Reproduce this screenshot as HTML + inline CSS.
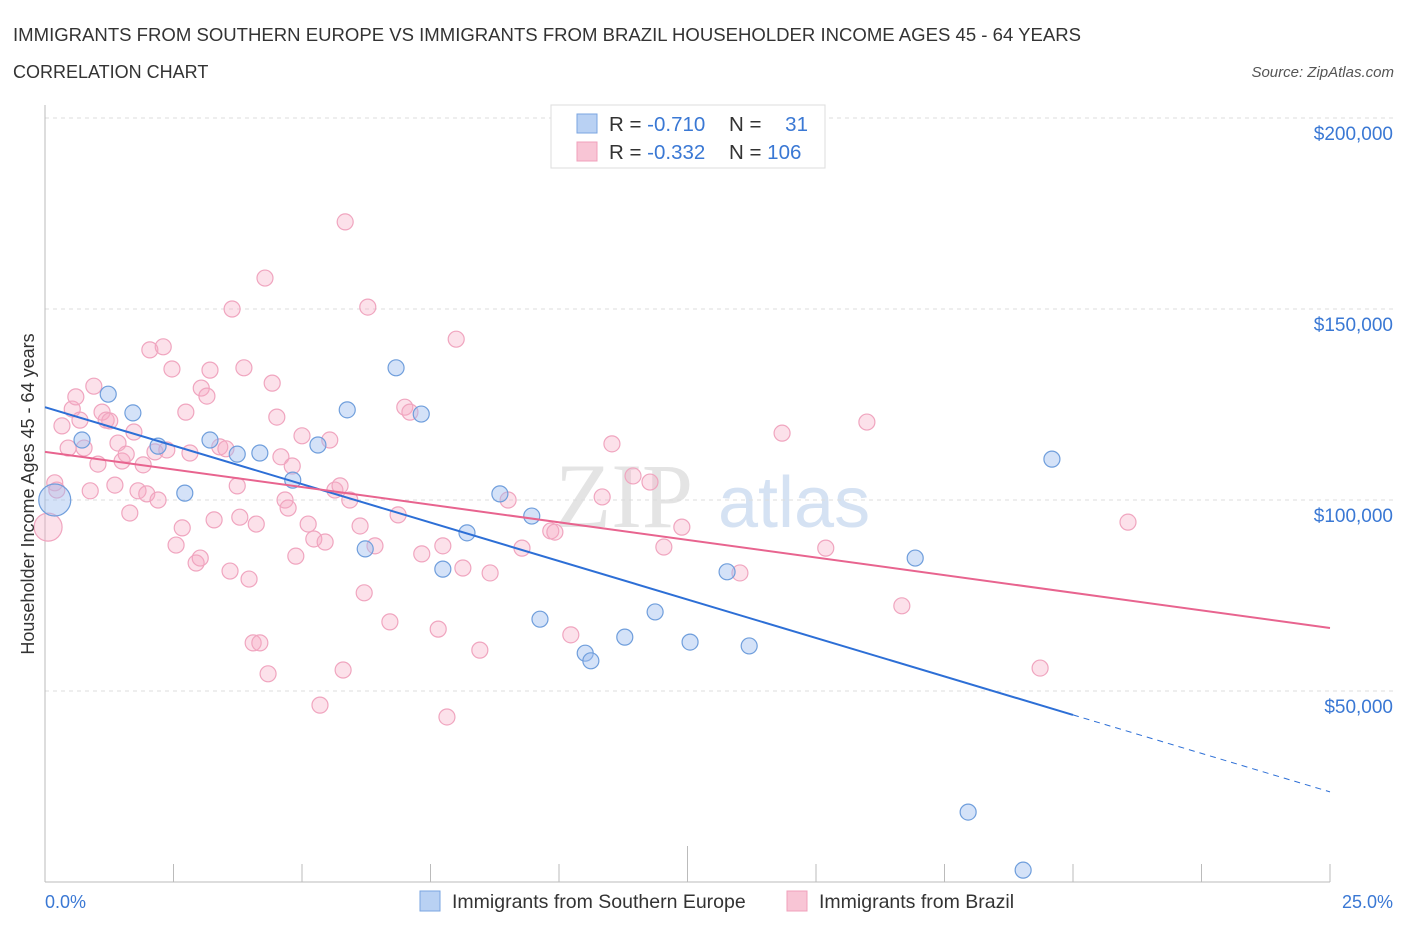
<!DOCTYPE html>
<html><head><meta charset="utf-8"><style>
body{margin:0;background:#fff;font-family:"Liberation Sans",sans-serif}
</style></head><body>
<svg id="c" width="1406" height="930" xmlns="http://www.w3.org/2000/svg" style="font-family:'Liberation Sans',sans-serif">
<text x="13" y="41" font-size="18" fill="#333" textLength="1068" lengthAdjust="spacingAndGlyphs">IMMIGRANTS FROM SOUTHERN EUROPE VS IMMIGRANTS FROM BRAZIL HOUSEHOLDER INCOME AGES 45 - 64 YEARS</text>
<text x="13" y="78" font-size="18" fill="#333">CORRELATION CHART</text>
<text x="1394" y="77" font-size="15" fill="#555" text-anchor="end" font-style="italic">Source: ZipAtlas.com</text>
<text x="555" y="527" font-size="92" fill="#e4e4e4" font-family="Liberation Serif">ZIP</text>
<text x="718" y="527" font-size="72" fill="#d5e2f3">atlas</text>
<g id="grid"></g><g id="axes"></g><g id="pts"></g><g id="lines"></g>
<text transform="translate(34,494) rotate(-90)" font-size="18" fill="#333" text-anchor="middle">Householder Income Ages 45 - 64 years</text>
<text x="45" y="908" font-size="18" fill="#3a78d4">0.0%</text>
<text x="1393" y="908" font-size="18" fill="#3a78d4" text-anchor="end">25.0%</text>
<g>
<rect x="551" y="105" width="274" height="63" fill="#fff" stroke="#ddd"/>
<rect x="577" y="114" width="20" height="19" fill="#b9d1f3" stroke="#7aa5e0"/>
<rect x="577" y="142" width="20" height="19" fill="#f8c5d5" stroke="#f0a0bb"/>
<text x="609" y="131" font-size="20.5" fill="#333">R = <tspan fill="#3a78d4">-0.710</tspan></text>
<text x="729" y="131" font-size="20.5" fill="#333">N = <tspan fill="#3a78d4" dx="18">31</tspan></text>
<text x="609" y="159" font-size="20.5" fill="#333">R = <tspan fill="#3a78d4">-0.332</tspan></text>
<text x="729" y="159" font-size="20.5" fill="#333">N = <tspan fill="#3a78d4">106</tspan></text>
</g>
<g>
<rect x="420" y="891" width="20" height="20" fill="#b9d1f3" stroke="#7aa5e0"/>
<text x="452" y="908" font-size="19.5" fill="#333">Immigrants from Southern Europe</text>
<rect x="787" y="891" width="20" height="20" fill="#f8c5d5" stroke="#f0a0bb"/>
<text x="819" y="908" font-size="19.5" fill="#333">Immigrants from Brazil</text>
</g>
</svg>
<script>
const yTicks=[50000,100000,150000,200000];
const yTickLabels=["$50,000","$100,000","$150,000","$200,000"];
const blueX=[0.19,0.72,1.23,1.71,2.20,2.72,3.21,3.74,4.18,4.82,5.31,5.88,6.23,6.83,7.32,7.74,8.21,8.85,9.47,9.63,10.51,10.62,11.28,11.87,12.55,13.27,13.70,16.93,19.59,17.96,19.03];
const blueY=[100.0,115.7,127.7,122.8,114.1,101.8,115.7,112.0,112.3,105.2,114.4,123.6,87.2,134.6,122.5,81.9,91.4,101.6,95.8,68.8,59.9,57.9,64.1,70.7,62.8,81.2,61.8,84.8,110.7,18.3,3.1];
const pinkX=[0.06,0.19,0.23,0.33,0.45,0.53,0.60,0.68,0.76,0.88,0.95,1.03,1.11,1.19,1.26,1.36,1.42,1.50,1.58,1.65,1.73,1.81,1.91,1.98,2.04,2.14,2.20,2.30,2.37,2.47,2.55,2.67,2.74,2.82,2.94,3.02,3.04,3.15,3.21,3.29,3.40,3.52,3.60,3.64,3.74,3.79,3.87,3.97,4.05,4.11,4.18,4.28,4.34,4.42,4.51,4.59,4.67,4.73,4.81,4.88,5.00,5.12,5.23,5.35,5.45,5.54,5.64,5.74,5.80,5.84,5.93,6.13,6.21,6.28,6.42,6.71,6.87,7.00,7.10,7.33,7.65,7.74,7.82,8.00,8.13,8.46,8.66,9.01,9.28,9.84,9.92,10.23,10.84,11.03,11.44,11.77,12.04,12.39,13.52,14.34,15.19,15.99,16.67,19.36,21.07];
const pinkY=[92.9,104.5,102.6,119.4,113.6,123.8,127.0,120.9,113.6,102.4,129.8,109.4,123.0,120.9,120.7,103.9,114.9,110.2,112.0,96.6,117.8,102.4,109.2,101.6,139.3,112.6,100.0,140.1,113.1,134.3,88.2,92.7,123.0,112.3,83.5,84.8,129.3,127.2,134.0,94.8,113.9,113.4,81.4,150.0,103.7,95.5,134.6,79.3,62.6,93.7,62.6,158.1,54.5,130.6,121.7,111.3,100.0,97.9,108.9,85.3,116.8,93.7,89.8,46.3,89.0,115.7,102.6,103.7,55.5,172.8,100.0,93.2,75.7,150.5,88.0,68.1,96.1,124.3,123.0,85.9,66.2,88.0,43.2,142.1,82.2,60.7,80.9,100.0,87.4,91.9,91.6,64.7,100.8,114.7,106.3,104.7,87.7,92.9,80.9,117.5,87.4,120.4,72.3,56.0,94.2];
const blueTrend=[124.3,23.6];
const blueSolidEnd=20;
const pinkTrend=[112.6,66.5];
const NS="http://www.w3.org/2000/svg";
const X=v=>45+v*51.4, Y=k=>882-k*3.82;
function mk(t,a,p){const e=document.createElementNS(NS,t);for(const k in a)e.setAttribute(k,a[k]);p.appendChild(e);return e;}
const g=document.getElementById('grid'),ax=document.getElementById('axes'),pts=document.getElementById('pts'),ln=document.getElementById('lines');
yTicks.forEach((t,i)=>{const y=Y(t/1000);
const l=mk('line',{x1:45,x2:1394,y1:y,y2:y,stroke:'#ddd','stroke-dasharray':'4 4'},g);


const tx=mk('text',{x:1393,y:y+22,'font-size':19,fill:'#3a78d4','text-anchor':'end'},g);tx.textContent=yTickLabels[i];

});
mk('line',{x1:45,x2:45,y1:105,y2:882,stroke:'#bbb'},ax);
mk('line',{x1:45,x2:1330,y1:882,y2:882,stroke:'#bbb'},ax);
for(let i=1;i<=10;i++){const x=X(i*2.5);const t=mk('line',{x1:x,x2:x,y1:i==5?846:864,y2:882,stroke:'#bbb'},ax);

}
pinkX.forEach((x,i)=>{const c=mk('circle',{cx:X(x),cy:Y(pinkY[i]),r:i==0?14:8,fill:'rgba(245,170,195,0.35)',stroke:'#f0a5bf','stroke-width':1.2},pts);

});
blueX.forEach((x,i)=>{const c=mk('circle',{cx:X(x),cy:Y(blueY[i]),r:i==0?16:8,fill:'rgba(160,190,240,0.45)',stroke:'#6f9edc','stroke-width':1.2},pts);

});
const bY=x=>blueTrend[0]+(blueTrend[1]-blueTrend[0])*x/25;
const b1=mk('line',{x1:X(0),y1:Y(bY(0)),x2:X(blueSolidEnd),y2:Y(bY(blueSolidEnd)),stroke:'#2d6fd6','stroke-width':2},ln);


const b2=mk('line',{x1:X(blueSolidEnd),y1:Y(bY(blueSolidEnd)),x2:X(25),y2:Y(bY(25)),stroke:'#2d6fd6','stroke-width':1,'stroke-dasharray':'6 5'},ln);


const p1=mk('line',{x1:X(0),y1:Y(pinkTrend[0]),x2:X(25),y2:Y(pinkTrend[1]),stroke:'#e8648f','stroke-width':2},ln);


</script>
</body></html>
